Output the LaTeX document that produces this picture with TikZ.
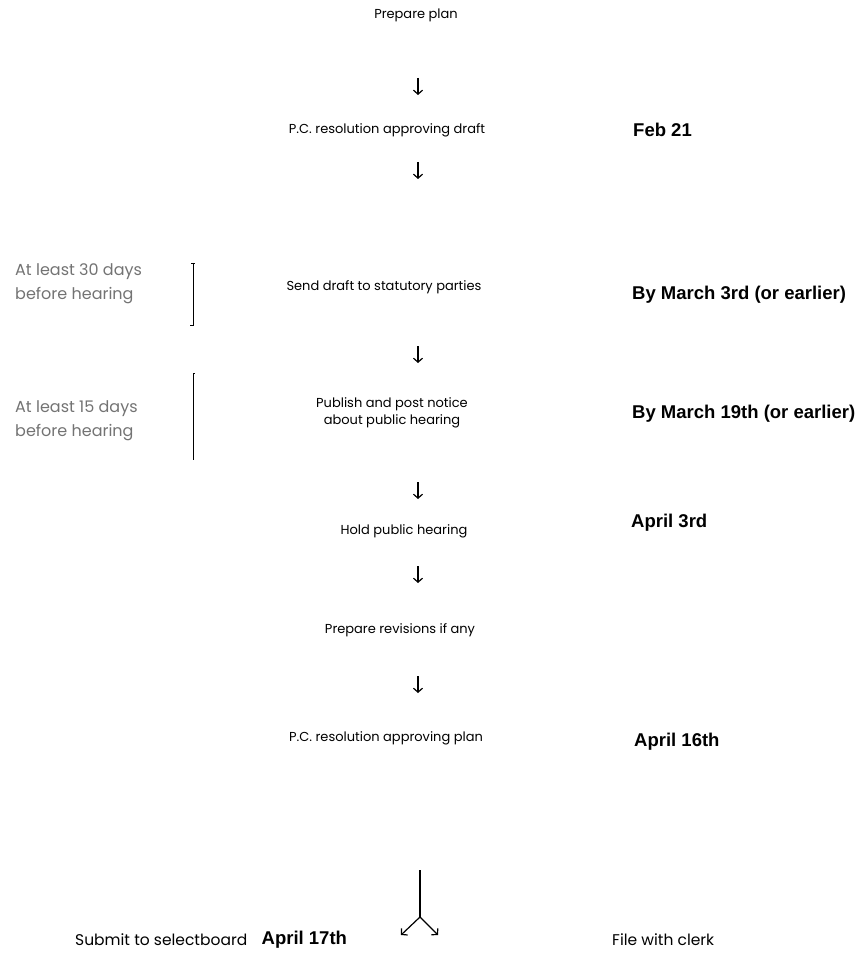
\documentclass[tikz,border=0pt]{standalone}
\usepackage{fontspec}
\setmainfont{Poppins}
\newfontfamily\datefont{Liberation Sans}
\usetikzlibrary{arrows.meta}
\usetikzlibrary{positioning}
\tikzset{
  timeline/.style={
    step label/.style={font={\fontsize{13}{17}\selectfont},align=center,inner sep=0pt},
    end label/.style={font={\fontsize{15.5}{19}\selectfont},anchor=west,inner sep=0pt},
    date label/.style={font={\datefont\bfseries\fontsize{18.5}{21}\selectfont},anchor=west,inner sep=0pt},
    note label/.style={font={\fontsize{16}{24}\selectfont},text=black!55,anchor=west,align=left,inner sep=0pt},
    step arrow/.style={-{Straight Barb[length=4pt,width=9pt]},line width=1.2pt},
    bracket/.style={line width=0.8pt},
  }
}

\begin{document}
\begin{tikzpicture}[timeline, x=1pt, y=-1pt]
    \useasboundingbox (0,0) rectangle (864,957);

    % steps
    \node[step label] (plan) at (416,15) {Prepare plan};
    \node[step label] (draft) at (387,130) {P.C. resolution approving draft};
    \node[step label] (send) at (384,287) {Send draft to statutory parties};
    \node[step label] (notice) at (392,413) {Publish and post notice\\about public hearing};
    \node[step label] (hearing) at (404,531) {Hold public hearing};
    \node[step label] (revise) at (400,630) {Prepare revisions if any};
    \node[step label] (approve) at (386,738) {P.C. resolution approving plan};
    \node[end label] (submit) at (75,940) {Submit to selectboard};
    \node[date label, right=14pt of submit] (apr17) {April 17th};
    \node[end label] (clerk) at (612,940) {File with clerk};

    % dates
    \node[date label] (feb21) at (633,130) {Feb 21};
    \node[date label] (mar3) at (632,295) {By March 3rd (or earlier)};
    \node[date label] (mar19) at (632,414) {By March 19th (or earlier)};
    \node[date label] (apr3) at (631,523) {April 3rd};
    \node[date label] (apr16) at (634,742) {April 16th};

    % notes on the left
    \node[note label] (note30) at (15,284) {At least 30 days\\before hearing};
    \node[note label] (note15) at (15,421) {At least 15 days\\before hearing};
    \draw[bracket] (191,263) -- (195,263) (193,263) -- (193,325) -- (190,325);
    \draw[bracket] (193,373) -- (195,373) (193,373) -- (193,460);

    % arrows between steps
    \foreach \n/\y in {1/78,2/162,3/346,4/482,5/566,6/676}
    {
        \coordinate (top\n) at (418,\y);
        \coordinate (tip\n) at (418,\y+17);
        \draw[step arrow] (top\n) -- (tip\n);
    }

    % split at the end
    \coordinate (fork top) at (420,870);
    \coordinate (fork) at (420,917);
    \coordinate (left tip) at (401,935);
    \coordinate (right tip) at (438,935);
    \draw[line width=1.2pt] (fork top) -- (fork);
    \draw[step arrow] (fork) -- (left tip);
    \draw[step arrow] (fork) -- (right tip);
\end{tikzpicture}
\end{document}
